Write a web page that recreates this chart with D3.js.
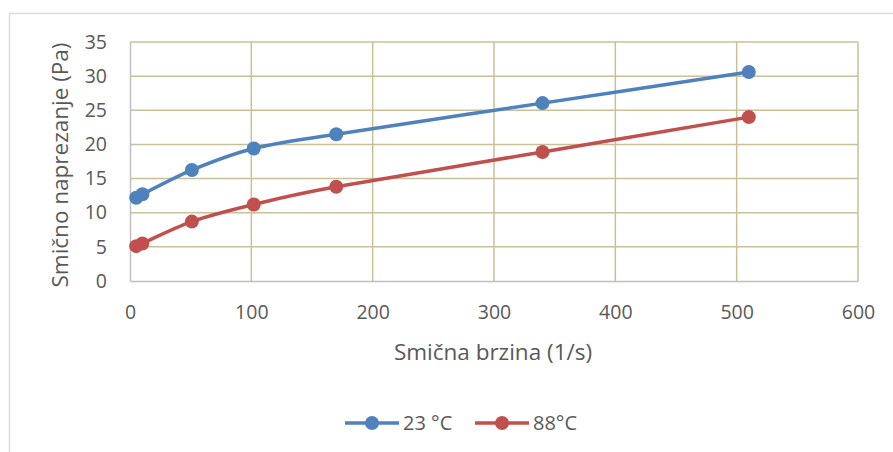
<!DOCTYPE html>
<html><head><meta charset="utf-8">
<script src="https://cdn.jsdelivr.net/npm/d3@7"></script>
<style>body{margin:0;background:#fff;} text{font-family:"Open Sans","Liberation Sans",sans-serif;fill:#595959;}</style>
</head><body>
<svg id="c" width="893" height="452"></svg>
<script>
const shearRate = [5.1, 10.2, 51, 102, 170, 340, 510];
const stress23 = [12.2, 12.7, 16.25, 19.4, 21.5, 26.05, 30.6];
const stress88 = [5.1, 5.5, 8.7, 11.2, 13.8, 18.9, 24.0];
const seriesNames = ["23 °C", "88°C"];
const seriesColors = ["#4f81bd", "#c0504d"];
const xTicks = [0, 100, 200, 300, 400, 500, 600];
const yTicks = [0, 5, 10, 15, 20, 25, 30, 35];
const xTitle = "Smična brzina (1/s)";
const yTitle = "Smično naprezanje (Pa)";

const svg = d3.select("#c");
svg.append("line").attr("x1",9.5).attr("x2",893).attr("y1",13.5).attr("y2",13.5).attr("stroke","#d9d9d9").attr("stroke-width",1.5);
svg.append("line").attr("x1",9.5).attr("x2",9.5).attr("y1",13.5).attr("y2",452).attr("stroke","#d9d9d9").attr("stroke-width",1.5);

const x = d3.scaleLinear().domain([0,600]).range([130,858]);
const y = d3.scaleLinear().domain([0,35]).range([281,42]);
const grid = "#c9c09a";

svg.append("g").selectAll("line").data(yTicks.filter(d=>d>0)).join("line")
  .attr("x1",x(0)).attr("x2",x(600)).attr("y1",d=>y(d)).attr("y2",d=>y(d))
  .attr("stroke",grid).attr("stroke-width",1.5);
svg.append("g").selectAll("line").data(xTicks.filter(d=>d>0)).join("line")
  .attr("x1",d=>x(d)).attr("x2",d=>x(d)).attr("y1",y(0)).attr("y2",y(35))
  .attr("stroke",grid).attr("stroke-width",1.5);

const xAxis = svg.append("g").attr("transform",`translate(0,${y(0)})`)
  .call(d3.axisBottom(x).tickValues(xTicks).tickSize(0));
const yAxis = svg.append("g").attr("transform",`translate(${x(0)},0)`)
  .call(d3.axisLeft(y).tickValues(yTicks).tickSize(0).tickPadding(23));
[xAxis,yAxis].forEach(a=>{
  a.select(".domain").attr("stroke","#bfbfbf").attr("stroke-width",1.5);
  a.selectAll("text").attr("font-size",19.5).style("font-family",'"Open Sans","Liberation Sans",sans-serif').attr("fill","#595959");
});
xAxis.selectAll("text").attr("y",31).attr("dy","0.35em");

svg.append("text").attr("x",493).attr("y",352).attr("dy","0.35em").attr("text-anchor","middle").attr("font-size",22.5).text(xTitle);
svg.append("text").attr("transform","translate(60,165) rotate(-90)").attr("dy","0.35em").attr("text-anchor","middle").attr("font-size",22.5).text(yTitle);

const allSeries = [stress23, stress88];
const line = d3.line().x(d=>x(d[0])).y(d=>y(d[1])).curve(d3.curveCatmullRom.alpha(0));
allSeries.forEach((vals,i)=>{
  const pts = shearRate.map((r,j)=>[r,vals[j]]);
  svg.append("path").datum(pts).attr("d",line).attr("fill","none")
    .attr("stroke",seriesColors[i]).attr("stroke-width",3.5).attr("stroke-linecap","round");
  svg.append("g").selectAll("circle").data(pts).join("circle")
    .attr("cx",d=>x(d[0])).attr("cy",d=>y(d[1])).attr("r",7).attr("fill",seriesColors[i]);
});

const legX = [345, 475];
seriesNames.forEach((n,i)=>{
  const g = svg.append("g").attr("transform",`translate(${legX[i]},423)`);
  g.append("line").attr("x1",0).attr("x2",54).attr("y1",0).attr("y2",0).attr("stroke",seriesColors[i]).attr("stroke-width",3.5);
  g.append("circle").attr("cx",27).attr("cy",0).attr("r",7).attr("fill",seriesColors[i]);
  g.append("text").attr("x",58).attr("y",0).attr("dy","0.35em").attr("font-size",20).text(n);
});
</script>
</body></html>
